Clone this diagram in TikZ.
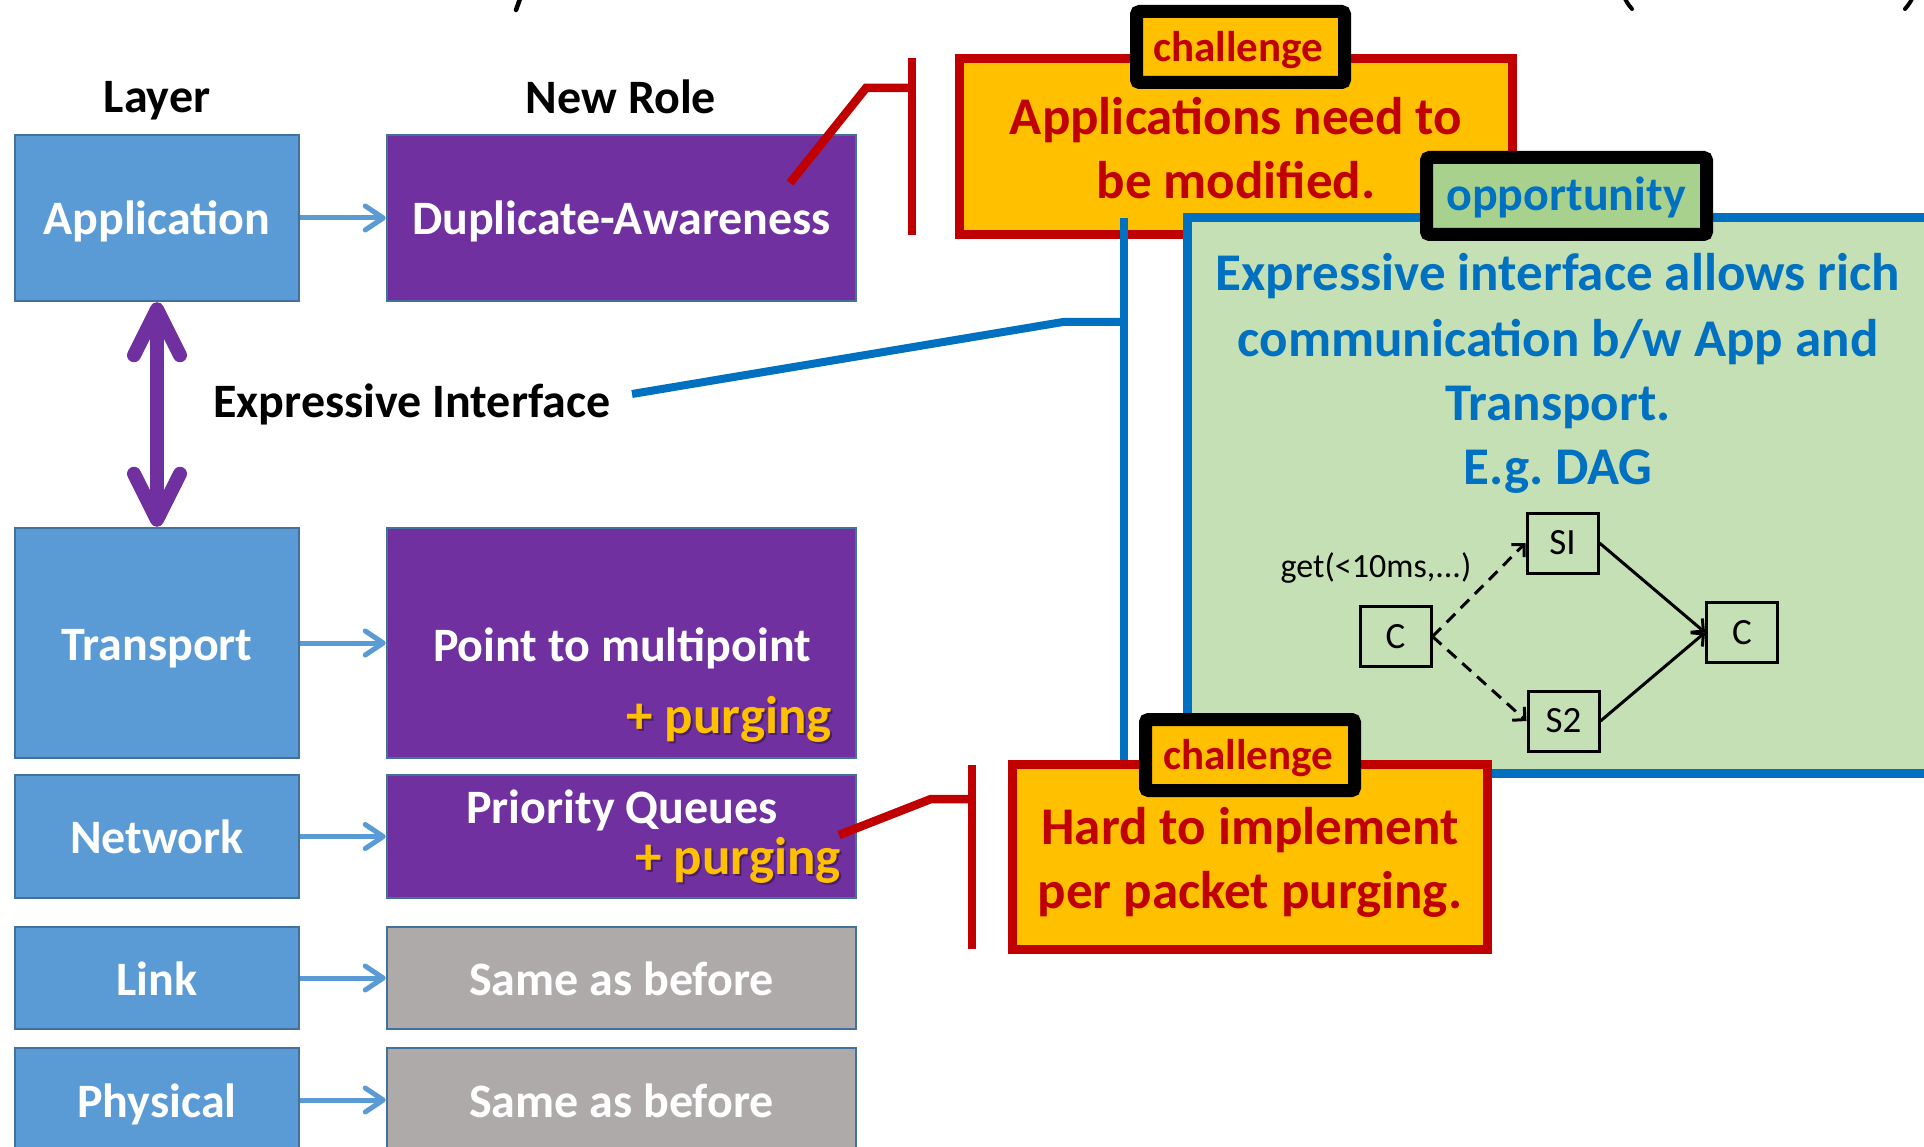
\documentclass[tikz,border=0pt]{standalone}
\usepackage{fontspec}
\setmainfont{Carlito}
\usetikzlibrary{arrows.meta}
\definecolor{layerblue}{HTML}{5B9BD5}
\definecolor{layeredge}{HTML}{41719C}
\definecolor{rolepurple}{HTML}{7030A0}
\definecolor{rolegray}{HTML}{AEAAAA}
\definecolor{purgegold}{HTML}{FFC000}
\definecolor{alertred}{HTML}{C00000}
\definecolor{alertfill}{HTML}{FFC000}
\definecolor{oppblue}{HTML}{0070C0}
\definecolor{oppfill}{HTML}{C5E0B4}
\definecolor{opptag}{HTML}{A9D18E}
\definecolor{arrowblue}{HTML}{5B9BD5}
\begin{document}
\begin{tikzpicture}[x=1pt,y=-1pt,
  bigfont/.style={font=\fontsize{48}{54}\selectfont\bfseries},
  capmid/.style={text height=34pt, text depth=0pt, inner sep=0pt},
  layerbox/.style={draw=layeredge, line width=2.5pt, fill=layerblue, text=white,
    bigfont, capmid, minimum width=284pt},
  rolebox/.style={draw=layeredge, line width=2.5pt, fill=rolepurple, text=white,
    bigfont, capmid, minimum width=469pt},
  samebox/.style={rolebox, fill=rolegray},
  roletext/.style={text=white, bigfont, capmid},
  purgetext/.style={text=purgegold, font=\fontsize{53}{58}\selectfont\bfseries, inner sep=0pt},
  heading/.style={bigfont, capmid},
  layerarrow/.style={draw=arrowblue, line width=5pt,
    -{Straight Barb[round, length=18pt, width=24pt]}},
  alertbox/.style={draw=alertred, fill=alertfill, line width=9pt},
  tagbox/.style={draw=black, line width=13pt, rounded corners=3pt},
  alerttext/.style={text=alertred, font=\fontsize{53}{64}\selectfont\bfseries, inner sep=0pt},
  tagtext/.style={font=\fontsize{43}{46}\selectfont\bfseries, inner sep=0pt},
  redcall/.style={draw=alertred, line width=8.5pt},
  bluecall/.style={draw=oppblue, line width=8pt},
  dagbox/.style={draw=black, line width=3pt, minimum width=71pt, minimum height=60pt,
    inner sep=0pt, font=\fontsize{37}{39}\selectfont},
  dagarrow/.style={draw=black, line width=3pt, -{Straight Barb[length=9pt, width=18pt]}},
]
\useasboundingbox (0,0) rectangle (1924,1147);
\clip (0,0) rectangle (1924,1147);

% bottoms of the heading glyphs above the frame
\draw[line width=4.5pt, line cap=round] (521,-4) -- (516,10);
\draw[line width=4pt, line cap=round] (1623,-6) to[bend right=10] (1632,9);
\draw[line width=4pt, line cap=round] (1914,-6) to[bend left=10] (1905,9);

% column headings
\node[heading] (hlayer) at (157,96) {Layer};
\node[heading] (hrole) at (621,97) {New Role};

% layer column
\node[layerbox, minimum height=166pt] (app) at (157,218) {Application};
\node[layerbox, minimum height=230pt] (trans) at (157,643) {Transport};
\node[layerbox, minimum height=123pt] (net) at (157,836.5) {Network};
\node[layerbox, minimum height=102pt] (link) at (157,978) {Link};
\node[layerbox, minimum height=104pt] (phys) at (157,1100) {Physical};

% role column
\node[rolebox, minimum height=166pt] (dup) at (621.5,218) {Duplicate-Awareness};
\node[rolebox, minimum height=230pt] (p2m) at (621.5,643) {};
\node[rolebox, minimum height=123pt] (pq) at (621.5,836.5) {};
\node[samebox, minimum height=102pt] (same1) at (621.5,978) {Same as before};
\node[samebox, minimum height=104pt] (same2) at (621.5,1100) {Same as before};

\node[roletext] (p2mtext) at (622,644) {Point to multipoint};
\node[purgetext, text=black, opacity=0.35, anchor=base east] (p2mshadow) at (834,735) {+ purging};
\node[purgetext, anchor=base east] (p2mpurge) at (832,733) {+ purging};
\node[roletext, anchor=base] (pqtext) at (622,823) {Priority Queues};
\node[purgetext, text=black, opacity=0.35, anchor=base east] (pqshadow) at (843,876) {+ purging};
\node[purgetext, anchor=base east] (pqpurge) at (841,874) {+ purging};

% layer to role arrows
\draw[layerarrow] (app.east) -- (dup.west);
\draw[layerarrow] (trans.east) -- (p2m.west);
\draw[layerarrow] (net.east) -- (pq.west);
\draw[layerarrow] (link.east) -- (same1.west);
\draw[layerarrow] (phys.east) -- (same2.west);

% interface between application and transport
\draw[draw=rolepurple, line width=14pt,
  {Straight Barb[round, length=46pt, width=46pt]}-{Straight Barb[round, length=46pt, width=46pt]}]
  (app.south) -- (trans.north);
\node[heading] (iface) at (412,400) {Expressive Interface};

% challenge: applications
\coordinate (dupcall) at (790,183);
\coordinate (dupknee) at (866,88);
\coordinate (dupbar) at (912,88);
\coordinate (bar1top) at (912,58);
\coordinate (bar1bot) at (912,235);
\draw[redcall] (bar1top) -- (bar1bot);
\draw[redcall, line join=miter] (dupcall) -- (dupknee) -- (dupbar);
\draw[alertbox] (959.5,58.5) rectangle (1512.5,234.5);
\node[alerttext, anchor=base] (appchal1) at (1236,135) {Applications need to};
\node[alerttext, anchor=base] (appchal2) at (1236,199) {be modified.};
\node[tagbox, fill=alertfill, minimum width=208pt, minimum height=71pt] (tag1) at (1240.5,47) {};
\node[tagtext, text=alertred, anchor=base] (tag1text) at (1238,62) {challenge};

% opportunity: expressive interface
\coordinate (ifacecall) at (632,394);
\coordinate (ifaceknee) at (1063,322);
\coordinate (ifacebar) at (1124,322);
\coordinate (bar2top) at (1124,218);
\coordinate (bar2bot) at (1124,765);
\draw[bluecall] (bar2top) -- (bar2bot);
\draw[bluecall, line join=miter] (ifacecall) -- (ifaceknee) -- (ifacebar);
\draw[draw=oppblue, fill=oppfill, line width=9pt] (1187,218) rectangle (1940,773);
\node[tagbox, fill=opptag, minimum width=280pt, minimum height=77pt] (tag2) at (1566.5,196) {};
\node[tagtext, font=\fontsize{48}{50}\selectfont\bfseries, text=oppblue, anchor=base] (tag2text) at (1566,211) {opportunity};
\node[alerttext, text=oppblue, anchor=base] (opp1) at (1558,291) {Expressive interface allows rich};
\node[alerttext, text=oppblue, anchor=base] (opp2) at (1558,356) {communication b/w App and};
\node[alerttext, text=oppblue, anchor=base] (opp3) at (1558,420) {Transport.};
\node[alerttext, text=oppblue, anchor=base] (opp4) at (1558,484) {E.g.\ DAG};

% example DAG
\node[dagbox] (csrc) at (1395.5,636.5) {C};
\node[dagbox] (s1) at (1562.5,543) {SI};
\node[dagbox] (s2) at (1563.5,721) {S2};
\node[dagbox] (cdst) at (1742,632.5) {C};
\node[font=\fontsize{34}{36}\selectfont, anchor=base, inner sep=0pt] (getlbl) at (1376,577) {get(<10ms,...)};
\draw[dagarrow, dash pattern=on 12pt off 8pt] (csrc.east) -- (s1.west);
\draw[dagarrow, dash pattern=on 12pt off 8pt] (csrc.east) -- (s2.west);
\draw[dagarrow] (s1.east) -- (cdst.west);
\draw[dagarrow] (s2.east) -- (cdst.west);

% challenge: purging
\coordinate (pqcall) at (839,835);
\coordinate (pqknee) at (931,799);
\coordinate (pqbar) at (972,799);
\coordinate (bar3top) at (972,765);
\coordinate (bar3bot) at (972,949);
\draw[redcall] (bar3top) -- (bar3bot);
\draw[redcall, line join=miter] (pqcall) -- (pqknee) -- (pqbar);
\draw[alertbox] (1012.5,764.5) rectangle (1487.5,949.5);
\node[alerttext, anchor=base] (pqchal1) at (1250,844) {Hard to implement};
\node[alerttext, anchor=base] (pqchal2) at (1250,908) {per packet purging.};
\node[tagbox, fill=alertfill, minimum width=209pt, minimum height=71pt] (tag3) at (1250,755) {};
\node[tagtext, text=alertred, anchor=base] (tag3text) at (1248,769) {challenge};
\end{tikzpicture}
\end{document}
